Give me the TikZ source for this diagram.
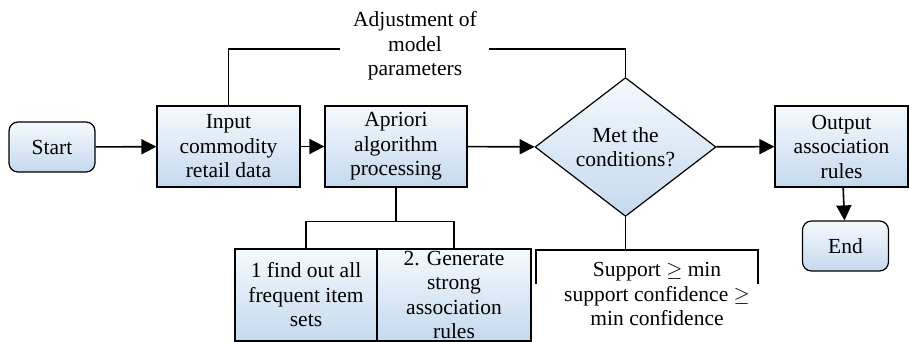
\documentclass[tikz,border=0pt]{standalone}
\usepackage{fontspec}
\setmainfont{Liberation Serif}
\usetikzlibrary{shapes.geometric,arrows.meta}

\definecolor{boxtop}{HTML}{F5F9FD}
\definecolor{boxbot}{HTML}{C4D9EE}

\begin{document}
\begin{tikzpicture}[x=1pt,y=-1pt,
	every node/.style={font=\fontsize{21.5}{24.5}\selectfont, align=center, inner sep=0pt},
	fill box/.style={draw, line width=1.2pt, top color=boxtop, bottom color=boxbot},
	proc/.style={fill box, minimum height=81pt},
	term/.style={fill box, rounded corners=9pt, minimum width=86pt, minimum height=50pt},
	cond/.style={fill box, diamond, minimum width=181pt, minimum height=134pt},
	link/.style={line width=1.6pt},
	flow/.style={link, -{Triangle[length=15pt,width=15pt]}}]
	\useasboundingbox (0,0) rectangle (909,342);

	% main row
	\node[term] (start) at (52,147) {Start};
	\node[proc, minimum width=143pt] (input) at (228.5,146.5) {Input\\commodity\\retail data};
	\node[proc, minimum width=142pt] (apriori) at (396,146.5) {Apriori\\algorithm\\processing};
	\node[cond] (check) at (625.5,147) {Met the\\conditions?};
	\node[proc, minimum width=133pt] (output) at (841.5,146.5) {Output\\association\\rules};
	\node[term] (end) at (845.5,246) {End};

	% two steps of apriori
	\node[fill box, minimum width=142pt, minimum height=92pt] (find) at (306,295) {1 find out all\\frequent item\\sets};
	\node[fill box, minimum width=154pt, minimum height=92pt] (gen) at (454,295) {2. Generate\\strong\\association\\rules};

	% labels
	\node (adjust) at (415,46) {Adjustment of\\model\\parameters};
	\node (rule) at (657,294) {Support $\geq$ min\\support confidence $\geq$\\min confidence};

	\draw[flow] (start) -- (input);
	\draw[flow] (input) -- (apriori);
	\draw[flow] (apriori) -- (check);
	\draw[flow] (check) -- (output);
	\draw[flow] (output) -- (end);

	% feedback line, broken by its label
	\coordinate (fbl) at (340,49);
	\coordinate (fbr) at (489,49);
	\draw[link] (input.north) |- (fbl);
	\draw[link] (fbr) -| (check.north);

	% brackets below
	\draw[link] (apriori.south) -- ++(0,34) coordinate (split);
	\draw[link] (split) -| (find.north);
	\draw[link] (split) -| (gen.north);
	\coordinate (cl) at (536,284);
	\coordinate (cr) at (758,284);
	\draw[link] (check.south) -- ++(0,33) coordinate (csplit);
	\draw[link] (csplit) -| (cl);
	\draw[link] (csplit) -| (cr);
\end{tikzpicture}
\end{document}
